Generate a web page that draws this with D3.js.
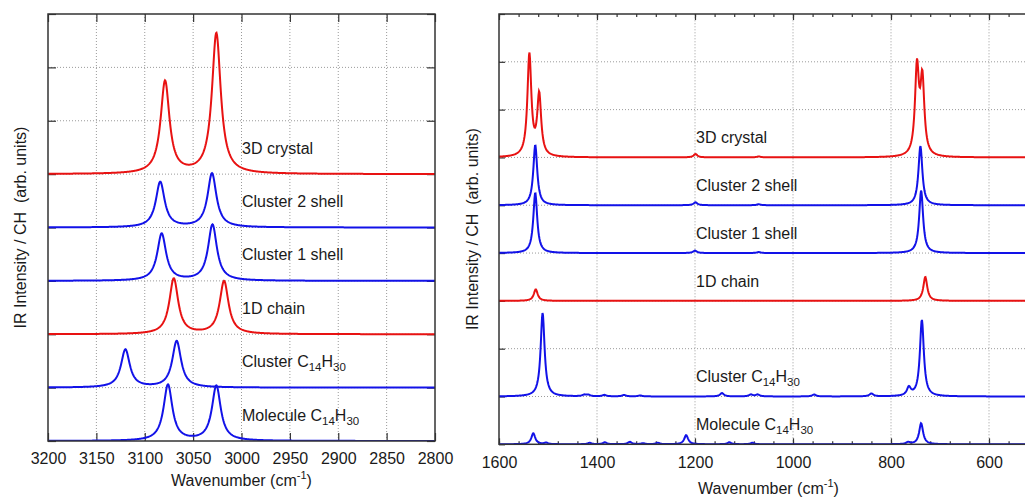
<!DOCTYPE html>
<html>
<head>
<meta charset="utf-8">
<script src="https://cdn.jsdelivr.net/npm/d3@7/dist/d3.min.js"></script>
<style>
  body { margin: 0; background: #fff; }
  svg { display: block; font-family: 'Liberation Sans', Arial, Helvetica, sans-serif; }
  .grid line { stroke: #9a9a9a; stroke-width: 1; stroke-dasharray: 1,2; }
  .axis text { font-size: 16px; fill: #1a1a1a; }
  .axis line { stroke: #333; stroke-width: 1.2; }
  .frame { fill: none; stroke: #333; stroke-width: 1.5; }
  .spectrum { fill: none; stroke-width: 2; }
  .label { font-size: 16px; fill: #1a1a1a; }
</style>
</head>
<body>
<svg id="chart" width="1025" height="497"></svg>
<script>
// peak lists [wavenumber (cm-1), height (arb.)]

// C-H stretch region (left panel)
var chMolecule = [[3076, 1.05], [3026, 1.03]]
var chClusterC14 = [[3120, 0.71], [3067, 0.87]]
var chChain1D = [[3070, 1.04], [3018, 0.99]]
var chCluster1 = [[3082.5, 0.88], [3030, 1.05]]
var chCluster2 = [[3084, 0.85], [3030.5, 1.01]]
var chCrystal3D = [[3079, 1.73], [3026, 2.63]]

// C-C / bending region (right panel)
var ccMolecule = [[1530, 0.23], [1504, 0.03], [1415, 0.03], [1384, 0.04], [1333, 0.05], [1306, 0.02],
  [1276, 0.03], [1218, 0.19], [1130, 0.04], [1083, 0.03], [765, 0.04], [738.5, 0.44]]
var ccClusterC14 = [[1511, 1.75], [1426, 0.03], [1418, 0.03], [1385, 0.03], [1345, 0.03], [1312, 0.02],
  [1145, 0.07], [1086, 0.04], [1072, 0.04], [957, 0.04], [840, 0.06], [763.5, 0.17], [737, 1.6]]
var ccChain1D = [[1525, 0.24], [730, 0.5]]
var ccCluster1 = [[1526, 1.26], [1200, 0.05], [1070, 0.02], [738.5, 1.31]]
var ccCluster2 = [[1526, 1.26], [1199, 0.06], [1070, 0.02], [740, 1.24]]
var ccCrystal3D = [[1538, 2.13], [1518, 1.27], [1199, 0.07], [1070, 0.02], [747, 1.82], [736, 1.55]]

// names ({..} marks a subscript), colours and vertical offsets, bottom to top
var seriesNames = ['Molecule C{14}H{30}', 'Cluster C{14}H{30}', '1D chain', 'Cluster 1 shell', 'Cluster 2 shell', '3D crystal']
var seriesColors = ['#1212e8', '#1212e8', '#e81212', '#1212e8', '#1212e8', '#e81212']
var chOffsets = [0, 1, 2, 3, 4, 5]
var ccOffsets = [0, 1, 3, 4, 5, 6]

// tick values
var chXTicks = [3200, 3150, 3100, 3050, 3000, 2950, 2900, 2850, 2800]
var ccXTicks = [1600, 1400, 1200, 1000, 800, 600]
var ccXMinor = d3.range(1600, 500, -40)
var chYTicks = d3.range(0, 9)
var ccYTicks = d3.range(0, 10)

var svg = d3.select('#chart')

var panels = [
  {
    peaks: [chMolecule, chClusterC14, chChain1D, chCluster1, chCluster2, chCrystal3D],
    offsets: chOffsets,
    xDomain: [3200, 2800], xRange: [48, 435],
    yDomain: [0, 8], yRange: [441, 14],
    xTicks: chXTicks, xMinor: [], yTicks: chYTicks,
    tickLen: 8, hwhm: 5.5,
    labelX: 242, labelDy: -20.5,
    xTitleY: 486, yTitleX: 20
  },
  {
    peaks: [ccMolecule, ccClusterC14, ccChain1D, ccCluster1, ccCluster2, ccCrystal3D],
    offsets: ccOffsets,
    xDomain: [1600, 500], xRange: [499, 1038],
    yDomain: [0, 9], yRange: [444.3, 14],
    xTicks: ccXTicks, xMinor: ccXMinor, yTicks: ccYTicks,
    tickLen: 6, hwhm: 4.8,
    labelX: 696, labelDy: -14,
    xTitleY: 494, yTitleX: 472
  }
]

function lorentz (peaks, w, g) {
  var s = 0
  peaks.forEach(function (p) {
    var d = w - p[0]
    s += p[1] * g * g / (d * d + g * g)
  })
  return s
}

function addLabel (sel, text) {
  text.split(/(\{\d+\})/).forEach(function (part) {
    if (!part) return
    if (part[0] === '{') {
      sel.append('tspan').attr('font-size', '11.5px').attr('dy', 4).text(part.slice(1, -1))
    } else {
      var t = sel.append('tspan').text(part)
      if (sel.selectAll('tspan').size() > 1) t.attr('dy', -4)
    }
  })
}

panels.forEach(function (p, pi) {
  var x = d3.scaleLinear().domain(p.xDomain).range(p.xRange)
  var y = d3.scaleLinear().domain(p.yDomain).range(p.yRange)
  var x0 = p.xRange[0]
  var x1 = p.xRange[1]
  var g = svg.append('g').attr('class', 'panel')

  var clipId = 'clip' + pi
  svg.append('clipPath').attr('id', clipId)
    .append('rect')
    .attr('x', x0).attr('y', p.yRange[1])
    .attr('width', x1 - x0).attr('height', p.yRange[0] - p.yRange[1])

  // dotted grid
  var grid = g.append('g').attr('class', 'grid')
  grid.selectAll('.gx')
    .data(p.xTicks.filter(function (d) { return x(d) > x0 + 1 && x(d) < x1 - 1 }))
    .enter().append('line')
    .attr('x1', function (d) { return x(d) }).attr('x2', function (d) { return x(d) })
    .attr('y1', p.yRange[0]).attr('y2', p.yRange[1])
  grid.selectAll('.gy')
    .data(p.yTicks.filter(function (d) { return d > p.yDomain[0] && d < p.yDomain[1] }))
    .enter().append('line')
    .attr('x1', x0).attr('x2', x1)
    .attr('y1', function (d) { return y(d) }).attr('y2', function (d) { return y(d) })

  // axes with inward ticks
  g.append('g').attr('class', 'axis')
    .attr('transform', 'translate(0,' + p.yRange[0] + ')')
    .call(d3.axisBottom(x).tickValues(p.xTicks).tickSize(-p.tickLen).tickPadding(12).tickFormat(d3.format('d')))
  g.append('g').attr('class', 'axis')
    .attr('transform', 'translate(0,' + p.yRange[1] + ')')
    .call(d3.axisTop(x).tickValues(p.xTicks).tickSize(-p.tickLen).tickFormat(''))
  if (p.xMinor.length) {
    g.append('g').attr('class', 'axis')
      .attr('transform', 'translate(0,' + p.yRange[0] + ')')
      .call(d3.axisBottom(x).tickValues(p.xMinor).tickSize(-3).tickFormat(''))
    g.append('g').attr('class', 'axis')
      .attr('transform', 'translate(0,' + p.yRange[1] + ')')
      .call(d3.axisTop(x).tickValues(p.xMinor).tickSize(-3).tickFormat(''))
  }
  g.append('g').attr('class', 'axis')
    .attr('transform', 'translate(' + x0 + ',0)')
    .call(d3.axisLeft(y).tickValues(p.yTicks).tickSize(-p.tickLen).tickFormat(''))
  g.append('g').attr('class', 'axis')
    .attr('transform', 'translate(' + x1 + ',0)')
    .call(d3.axisRight(y).tickValues(p.yTicks).tickSize(-p.tickLen).tickFormat(''))
  g.selectAll('.axis .domain').remove()

  // spectra: sum of Lorentzians on the stick list, sampled per half pixel
  var samples = d3.range(x0, x1 + 0.5, 0.5).map(function (px) { return x.invert(px) })
  var line = d3.line()
    .x(function (d) { return x(d[0]) })
    .y(function (d) { return y(d[1]) })

  p.peaks.forEach(function (peaks, i) {
    var off = p.offsets[i]
    g.append('path')
      .attr('class', 'spectrum')
      .attr('clip-path', 'url(#' + clipId + ')')
      .attr('stroke', seriesColors[i])
      .attr('d', line(samples.map(function (w) { return [w, off + lorentz(peaks, w, p.hwhm)] })))

    var lab = g.append('text')
      .attr('class', 'label')
      .attr('x', p.labelX)
      .attr('y', y(off) + p.labelDy)
    addLabel(lab, seriesNames[i])
  })

  // frame
  g.append('rect').attr('class', 'frame')
    .attr('x', x0).attr('y', p.yRange[1])
    .attr('width', x1 - x0).attr('height', p.yRange[0] - p.yRange[1])

  // axis titles
  var xt = g.append('text').attr('class', 'label')
    .attr('text-anchor', 'middle')
    .attr('x', (x0 + x1) / 2).attr('y', p.xTitleY)
  xt.append('tspan').text('Wavenumber (cm')
  xt.append('tspan').attr('font-size', '11px').attr('dy', -7).text('-1')
  xt.append('tspan').attr('dy', 7).text(')')

  g.append('text').attr('class', 'label')
    .attr('text-anchor', 'middle')
    .style('white-space', 'pre')
    .attr('transform', 'translate(' + p.yTitleX + ',' + (p.yRange[0] + p.yRange[1]) / 2 + ') rotate(-90)')
    .attr('dy', '0.35em')
    .text('IR Intensity / CH  (arb. units)')
})
</script>
</body>
</html>
